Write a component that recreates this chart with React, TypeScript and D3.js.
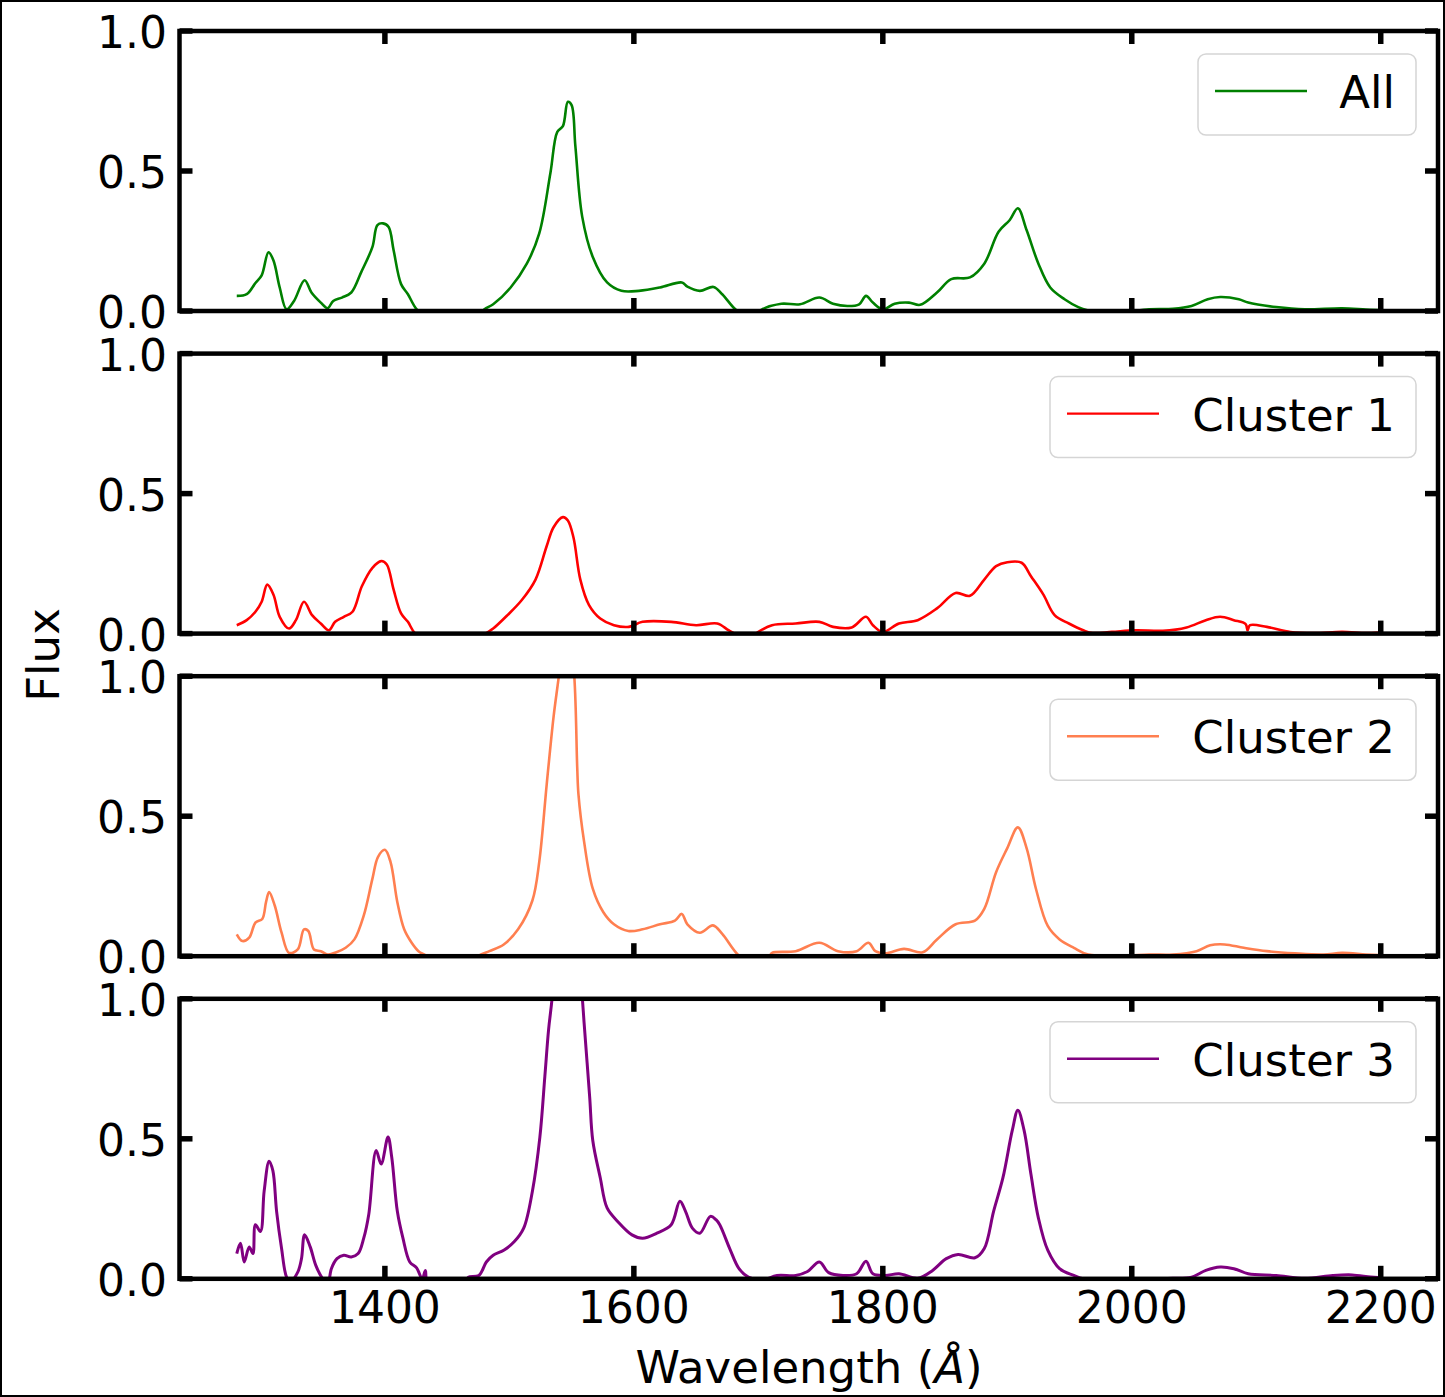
import React from 'react';
import * as d3 from 'd3';

// ---------- data ----------
const xTicks = [1400, 1600, 1800, 2000, 2200];
const xTickLabels = ['1400', '1600', '1800', '2000', '2200'];
const yTicks = [0, 0.5, 1.0];
const yTickLabels = ['0.0', '0.5', '1.0'];
const seriesNames = ['All', 'Cluster 1', 'Cluster 2', 'Cluster 3'];
const seriesColors = ['green', 'red', 'coral', 'purple'];

const allWave = [1281, 1289, 1296, 1301, 1306.5, 1310.5, 1315.5, 1321, 1327, 1335.5, 1341, 1348.5, 1354, 1358.5, 1365.5, 1373, 1381, 1390, 1394, 1398.5, 1403, 1407, 1413, 1418.5, 1425.5, 1440, 1460, 1475, 1480, 1487, 1501, 1514, 1524, 1533, 1538.5, 1543, 1547, 1550, 1553, 1558.5, 1567, 1578.5, 1590, 1604, 1621, 1638.5, 1643, 1653, 1664, 1671, 1681.5, 1690, 1698, 1703, 1718.5, 1733.5, 1749, 1760, 1771.5, 1781, 1786.5, 1792, 1800, 1809.5, 1821, 1830, 1843.5, 1855, 1870, 1881.5, 1893, 1902, 1908.5, 1915.5, 1925, 1934.5, 1946, 1957, 1965, 1980, 1995, 2014, 2033, 2048, 2061, 2071, 2086, 2093.5, 2116, 2139, 2169, 2188, 2198];
const allFlux = [0.054, 0.06, 0.10, 0.127, 0.21, 0.18, 0.084, 0.006, 0.036, 0.11, 0.066, 0.03, 0.01, 0.036, 0.048, 0.066, 0.139, 0.229, 0.307, 0.313, 0.30, 0.217, 0.096, 0.06, 0.006, -0.05, -0.06, -0.02, 0.006, 0.024, 0.084, 0.169, 0.277, 0.494, 0.64, 0.66, 0.747, 0.735, 0.59, 0.337, 0.193, 0.102, 0.072, 0.072, 0.084, 0.102, 0.087, 0.072, 0.086, 0.06, 0.006, -0.02, -0.01, 0.006, 0.026, 0.024, 0.048, 0.026, 0.018, 0.024, 0.054, 0.03, 0.006, 0.026, 0.03, 0.022, 0.066, 0.114, 0.12, 0.169, 0.283, 0.325, 0.367, 0.289, 0.169, 0.084, 0.042, 0.014, 0.002, -0.01, -0.005, 0.006, 0.008, 0.018, 0.042, 0.05, 0.042, 0.03, 0.014, 0.006, 0.01, 0.005, 0.003];

const c1Wave = [1281, 1289, 1296, 1301, 1305.5, 1310.5, 1315.5, 1323, 1328.5, 1335, 1341.5, 1348.5, 1355, 1360, 1367, 1374, 1381.5, 1390, 1397, 1401.5, 1407, 1413, 1418.5, 1424, 1440, 1460, 1476, 1481.5, 1487, 1498.5, 1510, 1521, 1530, 1535.5, 1543, 1547, 1551.5, 1557, 1564, 1573, 1584, 1596, 1607, 1630, 1650, 1667, 1676, 1681, 1692, 1700, 1711, 1730, 1749, 1760, 1775, 1786.5, 1792, 1800, 1813, 1828, 1843.5, 1858.5, 1870, 1881.5, 1891, 1900, 1911.5, 1919, 1929, 1938, 1949.5, 1961, 1968.5, 1984, 2003, 2025, 2044, 2059.5, 2071, 2082, 2091.5, 2093, 2095, 2108.5, 2127.5, 2146.5, 2169, 2188, 2198];
const c1Flux = [0.03, 0.048, 0.078, 0.114, 0.175, 0.139, 0.06, 0.018, 0.048, 0.114, 0.066, 0.036, 0.012, 0.042, 0.06, 0.078, 0.169, 0.235, 0.259, 0.247, 0.157, 0.072, 0.042, 0.002, -0.05, -0.06, -0.02, 0.002, 0.018, 0.066, 0.12, 0.193, 0.313, 0.38, 0.416, 0.404, 0.343, 0.193, 0.102, 0.054, 0.03, 0.024, 0.042, 0.042, 0.03, 0.036, 0.012, 0.0, -0.02, 0.006, 0.03, 0.036, 0.042, 0.024, 0.022, 0.06, 0.03, 0.006, 0.036, 0.048, 0.09, 0.145, 0.135, 0.193, 0.241, 0.255, 0.253, 0.205, 0.139, 0.066, 0.036, 0.012, 0.002, 0.006, 0.012, 0.01, 0.022, 0.048, 0.06, 0.048, 0.034, 0.012, 0.03, 0.024, 0.006, 0.002, 0.006, 0.002, 0.004];

const c2Wave = [1281, 1285.5, 1291, 1296, 1301.5, 1304.5, 1307, 1311.5, 1317, 1323, 1330, 1335, 1338.5, 1343, 1348.5, 1354, 1361, 1368.5, 1375.5, 1383, 1390, 1394.5, 1400, 1404.5, 1410, 1415.5, 1421.5, 1427, 1433, 1450, 1465, 1475.5, 1484, 1495.5, 1507, 1518.5, 1524, 1530, 1535.5, 1540, 1546, 1552, 1554.5, 1555.5, 1560, 1567, 1575.5, 1584, 1595.5, 1607, 1621, 1633, 1638.5, 1643, 1653, 1663.5, 1671, 1684.5, 1695, 1709, 1711, 1730, 1749, 1764, 1779, 1788.5, 1794, 1802, 1817, 1832, 1843.5, 1858.5, 1874, 1881.5, 1891, 1900, 1908.5, 1915.5, 1923, 1932.5, 1942, 1953.5, 1965, 1995, 2014, 2033, 2052, 2063, 2074.5, 2090, 2108.5, 2131, 2154, 2169, 2188, 2198];
const c2Flux = [0.078, 0.054, 0.066, 0.12, 0.133, 0.193, 0.229, 0.181, 0.084, 0.012, 0.024, 0.096, 0.09, 0.024, 0.018, 0.006, 0.014, 0.03, 0.06, 0.145, 0.277, 0.355, 0.38, 0.337, 0.193, 0.096, 0.048, 0.018, 0.002, -0.05, -0.04, 0.002, 0.018, 0.042, 0.096, 0.199, 0.337, 0.614, 0.855, 1.01, 1.25, 1.01, 0.675, 0.578, 0.41, 0.241, 0.157, 0.114, 0.09, 0.096, 0.114, 0.127, 0.151, 0.114, 0.084, 0.11, 0.08, 0.002, -0.02, 0.002, 0.012, 0.018, 0.048, 0.018, 0.018, 0.048, 0.018, 0.01, 0.026, 0.014, 0.06, 0.114, 0.127, 0.169, 0.30, 0.386, 0.46, 0.386, 0.241, 0.108, 0.06, 0.03, 0.006, 0.002, 0.006, 0.006, 0.018, 0.039, 0.042, 0.03, 0.018, 0.01, 0.006, 0.012, 0.006, 0.004];

const c3Wave = [1281, 1284, 1287, 1291, 1294, 1296, 1300, 1303, 1307, 1310, 1313, 1317, 1321, 1324, 1330, 1333, 1335.5, 1340, 1344.5, 1350, 1354, 1357, 1361.5, 1367, 1373, 1378.5, 1383, 1387, 1393, 1397, 1402.5, 1405.5, 1410, 1414.5, 1420, 1425.5, 1430, 1432.5, 1434, 1450, 1465.5, 1467, 1475.5, 1481.5, 1487, 1495.5, 1504, 1511.5, 1518.5, 1524.5, 1528.5, 1531.5, 1534.5, 1546, 1558.5, 1560, 1564.5, 1567, 1573, 1578.5, 1587, 1598.5, 1607, 1618.5, 1630, 1637, 1641.5, 1647, 1653, 1661.5, 1666, 1669, 1677, 1684.5, 1692, 1703, 1715, 1730, 1739.5, 1749, 1756.5, 1768, 1779, 1786.5, 1792, 1802, 1813, 1828, 1840, 1851, 1860.5, 1874, 1881.5, 1889, 1896.5, 1904, 1908.5, 1913.5, 1919, 1925, 1932.5, 1942, 1953.5, 1961, 1985, 2014, 2033, 2048, 2059.5, 2071, 2082, 2093.5, 2116, 2139, 2161.5, 2177, 2192, 2198];
const c3Flux = [0.09, 0.127, 0.06, 0.114, 0.09, 0.193, 0.169, 0.313, 0.42, 0.386, 0.241, 0.108, 0.006, -0.01, 0.024, 0.072, 0.157, 0.114, 0.048, 0.0, -0.02, 0.036, 0.072, 0.084, 0.078, 0.09, 0.145, 0.229, 0.458, 0.41, 0.506, 0.434, 0.241, 0.145, 0.06, 0.039, 0.0, 0.03, -0.01, -0.06, -0.005, 0.006, 0.012, 0.06, 0.084, 0.102, 0.133, 0.181, 0.313, 0.506, 0.723, 0.89, 1.01, 1.7, 1.01, 0.916, 0.65, 0.494, 0.361, 0.253, 0.205, 0.157, 0.145, 0.163, 0.193, 0.277, 0.241, 0.181, 0.163, 0.223, 0.211, 0.193, 0.108, 0.036, 0.006, -0.005, 0.012, 0.012, 0.026, 0.06, 0.022, 0.012, 0.018, 0.063, 0.018, 0.012, 0.018, 0.002, 0.03, 0.072, 0.087, 0.075, 0.108, 0.241, 0.361, 0.53, 0.602, 0.53, 0.373, 0.217, 0.102, 0.036, 0.012, 0.0, -0.005, 0.0, 0.002, 0.006, 0.03, 0.042, 0.036, 0.018, 0.012, 0.002, 0.012, 0.014, 0.006, 0.005];

const seriesWaves = [allWave, c1Wave, c2Wave, c3Wave];
const seriesFluxes = [allFlux, c1Flux, c2Flux, c3Flux];

// ---------- chart ----------
const FONT = '"DejaVu Sans", sans-serif';

export default function App() {
  const W = 1445;
  const H = 1397;
  const left = 179.5;
  const right = 1438;
  const panelTops = [31, 353.6, 676.2, 998.8];
  const ph = 280;
  const x = d3.scaleLinear().domain([1235, 2246]).range([left, right]);
  const tickLen = 13;

  return (
    <div style={{ position: 'absolute', left: 0, top: 0 }}>
      <svg width={W} height={H} style={{ display: 'block', background: 'white' }}>
        <rect x={0} y={0} width={W} height={H} fill="white" />
        {seriesNames.map((name, i) => {
          const top = panelTops[i];
          const bottom = top + ph;
          const y = d3.scaleLinear().domain([0, 1]).range([bottom, top]);
          const pts = seriesWaves[i].map((w, k) => [w, seriesFluxes[i][k]] as [number, number]);
          const line = d3.line<[number, number]>()
            .x(d => x(d[0]))
            .y(d => y(d[1]))
            .curve(d3.curveCatmullRom.alpha(0.5));
          const isCluster = name !== 'All';
          const boxW = isCluster ? 366 : 218;
          const boxR = right - 22;
          const boxL = boxR - boxW;
          const boxT = top + 23;
          const boxH = 81;
          const lineX1 = boxL + 17;
          const lineX2 = lineX1 + 92;
          return (
            <g key={name}>
              <defs>
                <clipPath id={`clip-${i}`}>
                  <rect x={left} y={top} width={right - left} height={ph} />
                </clipPath>
              </defs>
              <path d={line(pts) || ''} fill="none" stroke={seriesColors[i]} strokeWidth={i === 3 ? 3 : 2.6}
                strokeLinejoin="round" clipPath={`url(#clip-${i})`} />
              {/* legend */}
              <rect x={boxL} y={boxT} width={boxW} height={boxH} rx={8} ry={8}
                fill="white" fillOpacity={0.8} stroke="#d5d5d5" strokeWidth={1.5} />
              <line x1={lineX1} x2={lineX2} y1={boxT + 37} y2={boxT + 37} stroke={seriesColors[i]} strokeWidth={2.4} />
              <text x={boxR - 21} y={boxT + 54} textAnchor="end" fontFamily={FONT} fontSize={45} fill="black">{name}</text>
              {/* ticks */}
              {xTicks.map(t => (
                <g key={`xt${t}`}>
                  <line x1={x(t)} x2={x(t)} y1={bottom} y2={bottom - tickLen} stroke="black" strokeWidth={5.5} />
                  <line x1={x(t)} x2={x(t)} y1={top} y2={top + tickLen} stroke="black" strokeWidth={5.5} />
                </g>
              ))}
              {yTicks.map((t, k) => (
                <g key={`yt${t}`}>
                  <line x1={left} x2={left + tickLen} y1={y(t)} y2={y(t)} stroke="black" strokeWidth={5.5} />
                  <line x1={right} x2={right - tickLen} y1={y(t)} y2={y(t)} stroke="black" strokeWidth={5.5} />
                  <text x={167} y={y(t) + 17} textAnchor="end" fontFamily={FONT} fontSize={44} fill="black">{yTickLabels[k]}</text>
                </g>
              ))}
              {i === 3 && xTicks.map((t, k) => (
                <text key={`xl${t}`} x={x(t)} y={bottom + 44} textAnchor="middle" fontFamily={FONT} fontSize={44} fill="black">{xTickLabels[k]}</text>
              ))}
              {/* spines */}
              <rect x={left} y={top} width={right - left} height={ph} fill="none" stroke="black" strokeWidth={4.5} />
            </g>
          );
        })}
        <text transform={`translate(59, 655) rotate(-90)`} textAnchor="middle" fontFamily={FONT} fontSize={45} fill="black">Flux</text>
        <text x={809} y={1383} textAnchor="middle" fontFamily={FONT} fontSize={45} fill="black">
          Wavelength (<tspan fontStyle="italic">Å</tspan>)
        </text>
        <rect x={1} y={1} width={W - 2} height={H - 2} fill="none" stroke="black" strokeWidth={2} />
      </svg>
    </div>
  );
}
